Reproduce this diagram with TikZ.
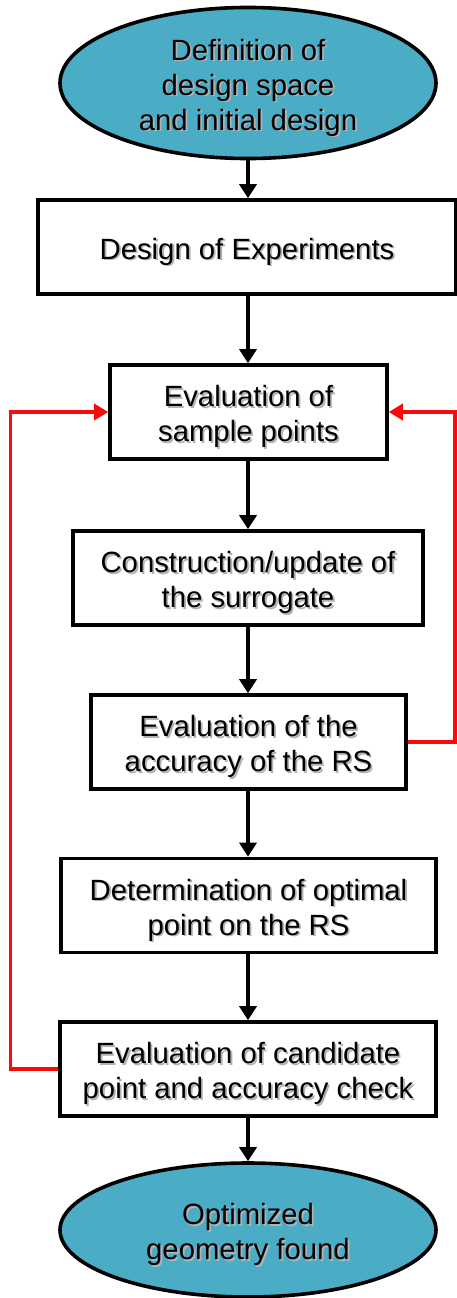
\documentclass[tikz,border=0pt]{standalone}
\usepackage{fontspec}
\setmainfont{Liberation Sans}
\usetikzlibrary{shapes.geometric,arrows.meta}

\definecolor{terminal}{RGB}{75,172,198}
\definecolor{loopred}{RGB}{250,10,10}

% text with a soft drop shadow behind it, set slightly low in its box
\newcommand\shtext[1]{%
  \raisebox{-6pt}[\height][\depth]{%
  \makebox[0pt][l]{\raisebox{-1.8pt}{\hspace{1.8pt}\color{black!30}%
    \begin{tabular}{@{}c@{}}#1\end{tabular}}}%
  \begin{tabular}{@{}c@{}}#1\end{tabular}}}

\tikzset{
  every node/.style={font=\fontsize{29.3}{35}\selectfont, inner sep=0pt},
  stepbox/.style={draw=black, line width=3.6pt, fill=white,
    minimum height=94pt, rectangle},
  endcap/.style={draw=black, line width=3.6pt, fill=terminal, ellipse,
    minimum width=376pt},
  flow/.style={draw=black, line width=3.4pt,
    -{Triangle[width=17pt,length=14pt]}},
  feedback/.style={draw=loopred, line width=3.4pt, line join=miter,
    -{Triangle[width=16pt,length=14pt]}},
}

\begin{document}
\begin{tikzpicture}[x=1pt,y=-1pt]
  \path[fill=white, use as bounding box] (0,0) rectangle (457,1298);

  \node[endcap, minimum height=140pt] (start) at (248,83)
    {\shtext{Definition of\\design space\\and initial design}};
  \node[stepbox, minimum width=418pt] (doe) at (247,247)
    {\shtext{Design of Experiments}};
  \node[stepbox, minimum width=277pt] (sample) at (248.5,412)
    {\shtext{Evaluation of\\sample points}};
  \node[stepbox, minimum width=350pt] (surr) at (248,578)
    {\shtext{Construction/update of\\the surrogate}};
  \node[stepbox, minimum width=315pt] (acc) at (248.5,742)
    {\shtext{Evaluation of the\\accuracy of the RS}};
  \node[stepbox, minimum width=375pt] (opt) at (248.5,905.5)
    {\shtext{Determination of optimal\\point on the RS}};
  \node[stepbox, minimum width=376pt] (cand) at (248,1069)
    {\shtext{Evaluation of candidate\\point and accuracy check}};
  \node[endcap, minimum height=134pt] (found) at (248,1230)
    {\shtext{Optimized\\geometry found}};

  % main sequence
  \draw[flow] (start.south) -- (start.south |- doe.north);
  \draw[flow] (start.south |- doe.south) -- (start.south |- sample.north);
  \draw[flow] (start.south |- sample.south) -- (start.south |- surr.north);
  \draw[flow] (start.south |- surr.south) -- (start.south |- acc.north);
  \draw[flow] (start.south |- acc.south) -- (start.south |- opt.north);
  \draw[flow] (start.south |- opt.south) -- (start.south |- cand.north);
  \draw[flow] (start.south |- cand.south) -- (found.north);

  % feedback loops
  \draw[feedback] (acc.east) -- ++(47,0) |- (sample.east);
  \draw[feedback] (cand.west) -- ++(-48,0) |- (sample.west);
\end{tikzpicture}
\end{document}
